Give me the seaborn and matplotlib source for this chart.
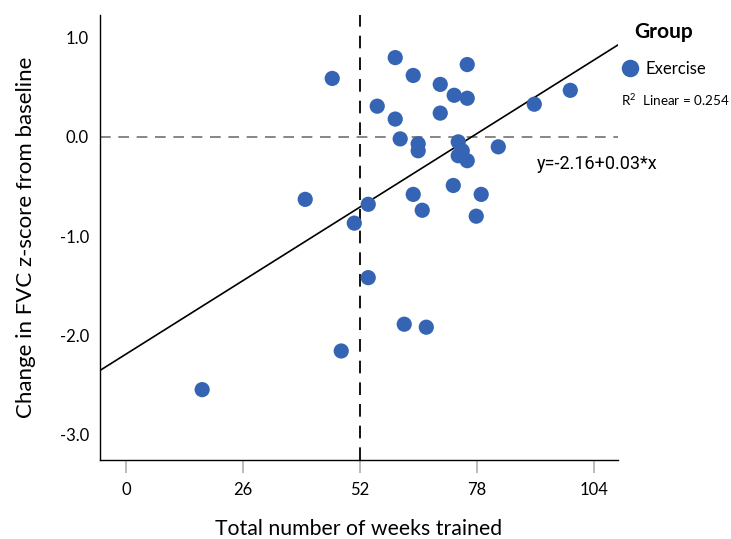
import numpy as np
import pandas as pd
import matplotlib
matplotlib.use("Agg")
import matplotlib.pyplot as plt
import seaborn as sns

weeks = [45.8, 59.8, 63.8, 75.8, 69.8, 72.9, 75.8, 55.8, 59.8, 69.8, 90.7, 98.7,
         60.9, 64.9, 64.9, 73.8, 74.7, 73.8, 75.8, 82.7, 72.7, 63.8, 78.9, 65.8,
         77.8, 39.8, 53.8, 50.7, 53.8, 61.8, 66.7, 47.8, 16.9]
change = [0.59, 0.80, 0.62, 0.73, 0.53, 0.42, 0.39, 0.31, 0.18, 0.24, 0.33, 0.47,
          -0.02, -0.07, -0.14, -0.05, -0.14, -0.19, -0.24, -0.10, -0.49, -0.58, -0.58, -0.74,
          -0.80, -0.63, -0.68, -0.87, -1.42, -1.89, -1.92, -2.16, -2.55]
group = ["Exercise"] * len(weeks)

x_ticks = [0, 26, 52, 78, 104]
y_ticks = [-3.0, -2.0, -1.0, 0.0, 1.0]
equation_label = "y=-2.16+0.03*x"
r2_label = "R$^2$  Linear = 0.254"

df = pd.DataFrame({"Total number of weeks trained": weeks,
                   "Change": change, "Group": group})

sns.set_theme(style="white")
plt.rcParams['font.family'] = ['Lato', 'DejaVu Sans']
plt.rcParams['mathtext.fontset'] = 'custom'
plt.rcParams['mathtext.rm'] = 'Lato'

fig = plt.figure(figsize=(7.31, 5.39), dpi=100)
ax = fig.add_axes([100/731, 1 - 460/539, 518/731, 445/539])

color = "#3564B4"
ax.set_xlim(-5.8, 109.3)
ax.set_ylim(-3.26, 1.23)

sns.scatterplot(data=df, x="Total number of weeks trained", y="Change", hue="Group",
                palette=[color], s=120, edgecolor="none", ax=ax, zorder=3)
sns.regplot(data=df, x="Total number of weeks trained", y="Change", scatter=False,
            ci=None, truncate=False, color="black", line_kws={"lw": 1.2}, ax=ax)

ax.set_xlim(-5.8, 109.3)
ax.set_ylim(-3.26, 1.23)

ax.axhline(0, color="#666666", lw=1.1, ls=(0, (7, 5)), zorder=1)
ax.axvline(52, color="black", lw=1.3, ls=(0, (7, 5)), zorder=1)

ax.set_xticks(x_ticks)
ax.set_xticklabels([str(t) for t in x_ticks], fontsize=12, color="black")
ax.set_yticks(y_ticks)
ax.set_yticklabels([f"{t:.1f}" for t in y_ticks], fontsize=12, color="black")
ax.tick_params(axis="x", direction="out", length=9, width=1.4, color="#bbbbbb", pad=7, bottom=True)
ax.tick_params(axis="y", length=0, pad=8)

for s in ["top", "right"]:
    ax.spines[s].set_visible(False)
for s in ["left", "bottom"]:
    ax.spines[s].set_color("black")
    ax.spines[s].set_linewidth(1.0)

ax.set_xlabel("Total number of weeks trained", fontsize=15.3, labelpad=15, color="black")
ax.set_ylabel("Change in FVC z-score from baseline", fontsize=16, labelpad=17, color="black")

fig.text(537/731, 1 - 164/539, equation_label, fontsize=13, va="center", ha="left",
         family=["Roboto", "DejaVu Sans"], color="black")

sns.move_legend(ax, loc="upper left", bbox_to_anchor=(622/731, 1 - 22/539),
                bbox_transform=fig.transFigure, frameon=False, title="Group",
                fontsize=12, title_fontsize=15, handletextpad=0.4, handlelength=1.0,
                borderaxespad=0, borderpad=0, labelspacing=1.15, markerscale=1.15)
leg = ax.get_legend()
leg.get_title().set_fontweight("bold")
leg.get_title().set_color("black")
for t in leg.get_texts():
    t.set_color("black")
fig.text(621/731, 1 - 100/539, r2_label, fontsize=9.7, va="center", ha="left", color="black")

fig.savefig("out.png", dpi=100)
